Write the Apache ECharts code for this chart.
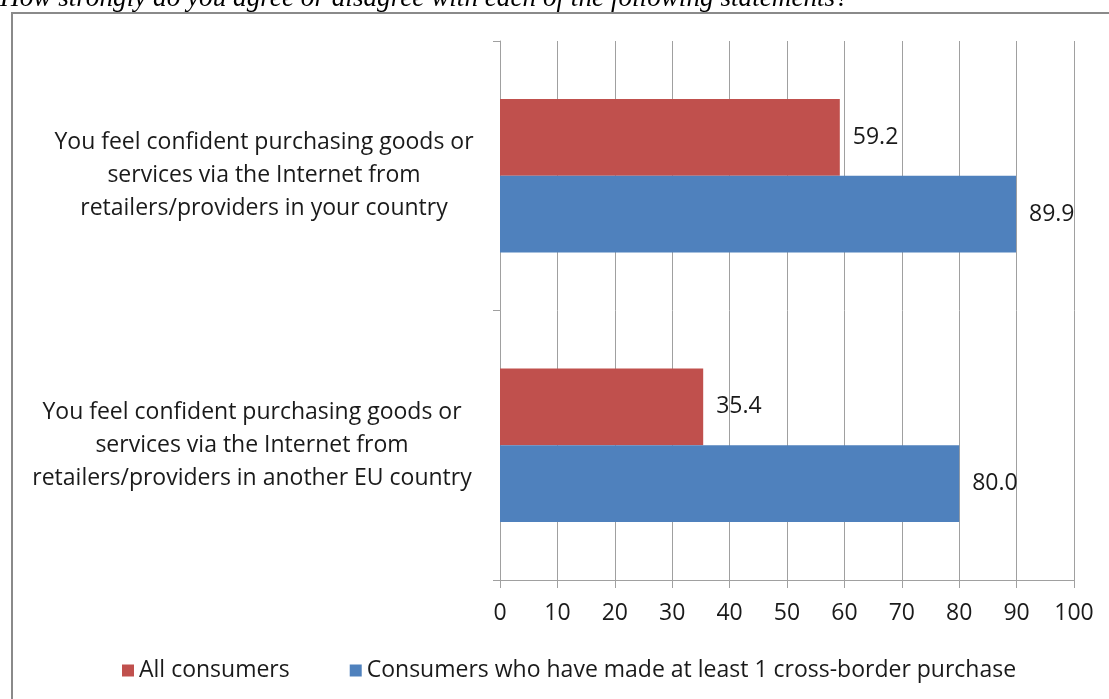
<!DOCTYPE html>
<html>
<head>
<meta charset="utf-8">
<script src="https://cdn.jsdelivr.net/npm/echarts@6/dist/echarts.min.js"></script>
<style>
  html, body { margin: 0; padding: 0; background: #ffffff; }
  #chart { width: 1109px; height: 699px; }
</style>
</head>
<body>
<div id="chart"></div>
<script>
// Statements, listed top to bottom
var categories = [
  'You feel confident purchasing goods or\nservices via the Internet from\nretailers/providers in your country',
  'You feel confident purchasing goods or\nservices via the Internet from\nretailers/providers in another EU country'
];
var seriesNames = ['All consumers', 'Consumers who have made at least 1 cross-border purchase'];
var allConsumers = [59.2, 35.4];
var crossBorderBuyers = [89.9, 80.0];
var xTicks = [0, 10, 20, 30, 40, 50, 60, 70, 80, 90, 100];
var titleText = 'How strongly do you agree or disagree with each of the following statements?';

var FONT = '"Open Sans", "Noto Sans", sans-serif';
var FS = 23;
var TEXT = '#1a1a1a';
var AXIS = '#a0a0a0';

var chart = echarts.init(document.getElementById('chart'), null, { renderer: 'canvas' });

// Category label block, centred on its own column left of the axis
function catLabel(text, padRight) {
  return {
    value: text,
    textStyle: {
      align: 'center',
      fontFamily: FONT,
      fontSize: FS,
      lineHeight: 33,
      color: TEXT,
      padding: [3, padRight, 0, 0]
    }
  };
}

chart.setOption({
  backgroundColor: '#ffffff',
  animation: false,
  graphic: [
    {
      type: 'rect',
      z: -1,
      shape: { x: 12, y: 13, width: 1120, height: 720 },
      style: { fill: 'none', stroke: '#8a8a8a', lineWidth: 2 }
    },
    {
      type: 'text',
      x: 0,
      y: 12,
      style: {
        text: titleText,
        font: 'italic 27.2px "Liberation Serif", "DejaVu Serif", serif',
        fill: '#000000',
        verticalAlign: 'bottom',
        align: 'left'
      }
    }
  ],
  grid: { left: 500, right: 35, top: 41, bottom: 119, containLabel: false, outerBoundsMode: 'none' },
  legend: {
    left: 117,
    top: 654,
    icon: 'rect',
    itemWidth: 12,
    itemHeight: 12,
    itemGap: 60,
    data: seriesNames,
    textStyle: { fontFamily: FONT, fontSize: FS, color: TEXT }
  },
  xAxis: {
    type: 'value',
    min: xTicks[0],
    max: xTicks[xTicks.length - 1],
    interval: xTicks[1] - xTicks[0],
    axisLine: { show: true, lineStyle: { color: AXIS, width: 1 } },
    axisTick: { show: true, length: 8, lineStyle: { color: AXIS } },
    splitLine: { show: true, lineStyle: { color: AXIS, width: 1 } },
    axisLabel: { margin: 22, fontFamily: FONT, fontSize: FS, color: TEXT }
  },
  yAxis: {
    type: 'category',
    inverse: true,
    data: [catLabel(categories[0], 0), catLabel(categories[1], 24)],
    axisLine: { show: true, lineStyle: { color: AXIS, width: 1 } },
    axisTick: { show: true, length: 7, lineStyle: { color: AXIS } },
    splitLine: { show: false },
    axisLabel: {
      margin: 236,
      align: 'center',
      fontFamily: FONT,
      fontSize: FS,
      lineHeight: 33,
      color: TEXT
    }
  },
  series: [
    {
      name: seriesNames[0],
      type: 'bar',
      data: allConsumers,
      barGap: '0%',
      barCategoryGap: '43%',
      itemStyle: { color: '#C0504D' },
      label: {
        show: true,
        position: 'right',
        distance: 13,
        fontFamily: FONT,
        fontSize: FS,
        color: TEXT,
        formatter: function (p) { return p.value.toFixed(1); }
      }
    },
    {
      name: seriesNames[1],
      type: 'bar',
      data: crossBorderBuyers,
      barGap: '0%',
      barCategoryGap: '43%',
      itemStyle: { color: '#4F81BD' },
      label: {
        show: true,
        position: 'right',
        distance: 13,
        fontFamily: FONT,
        fontSize: FS,
        color: TEXT,
        formatter: function (p) { return p.value.toFixed(1); }
      }
    }
  ]
});
</script>
</body>
</html>
